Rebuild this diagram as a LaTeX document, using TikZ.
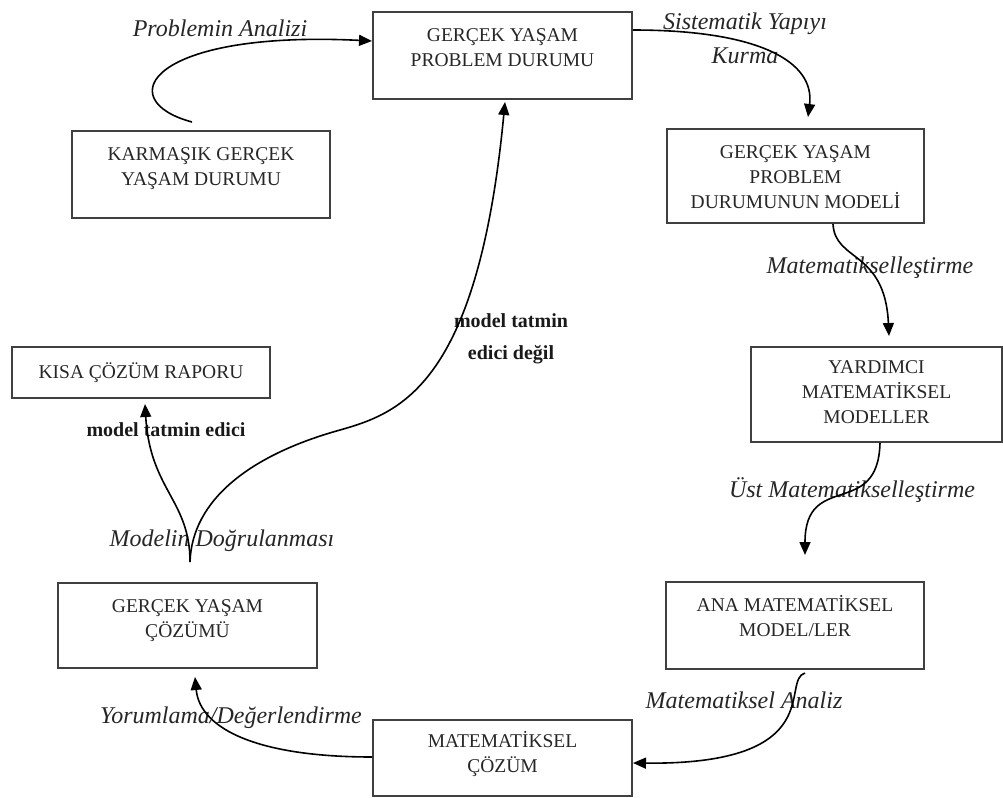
\documentclass[tikz,border=0pt]{standalone}
\usepackage{fontspec}
\setmainfont{Liberation Serif}
\usetikzlibrary{arrows.meta}
\usetikzlibrary{positioning}

\begin{document}
\begin{tikzpicture}
		[x=0.5pt, y=-0.5pt,
		font=\fontsize{9.75}{12.5}\selectfont
		]
		
		% Styles: frames, texts in frames, labels, arrows
		\tikzstyle{frame}=[draw=black!75,line width=1pt,inner sep=0];
		\tikzstyle{box text}=[align=center,inner sep=0,text=black!85];
		\tikzstyle{step label}=[font=\fontsize{12}{17}\selectfont\itshape,text=black!85];
		\tikzstyle{bold label}=[font=\fontsize{10}{16}\selectfont\bfseries,text=black!90];
		\tikzstyle{arr}=[draw,line width=0.8pt,-{Triangle[length=6.5pt,width=5.5pt]}];
		
		\useasboundingbox (0,0) rectangle (1003,798);
		
		% The frames
		\foreach \n/\x/\y/\w/\h in {prob/502.5/55.5/129.5/43.5, karm/201/174.5/129/43.5,
			modl/795.5/176/128.5/47, yard/876.5/394.5/125.5/47.5, ana/795/625.5/129/43.5,
			mcoz/502.5/758/129.5/38, gcoz/187.5/625.5/129.5/42.5, kisa/141/372.5/129/25.5}
			\node[frame,minimum width=\w pt,minimum height=\h pt](\n) at (\x,\y){};
		
		% Texts in the frames
		\node[box text,below=6.25pt of prob.north](prob-t){\strut GERÇEK YAŞAM\\PROBLEM DURUMU};
		\node[box text,below=6.25pt of karm.north](karm-t){\strut KARMAŞIK GERÇEK\\YAŞAM DURUMU};
		\node[box text,below=6.25pt of modl.north](modl-t){\strut GERÇEK YAŞAM\\PROBLEM\\DURUMUNUN MODELİ};
		\node[box text,below=5pt of yard.north](yard-t){\strut YARDIMCI\\MATEMATİKSEL\\MODELLER};
		\node[box text,below=6.25pt of ana.north](ana-t){\strut ANA MATEMATİKSEL\\MODEL/LER};
		\node[box text,below=5.5pt of mcoz.north](mcoz-t){\strut MATEMATİKSEL\\ÇÖZÜM};
		\node[box text,below=6.25pt of gcoz.north](gcoz-t){\strut GERÇEK YAŞAM\\ÇÖZÜMÜ};
		\node[box text](kisa-t) at (kisa){KISA ÇÖZÜM RAPORU};
		
		% Step labels
		\node[step label](analiz) at (220,28){Problemin Analizi};
		\node[step label,align=center](kurma) at (745,38){Sistematik Yapıyı\\Kurma};
		\node[step label](mat) at (870,268){Matematikselleştirme};
		\node[step label](ustmat) at (852,490){Üst Matematikselleştirme};
		\node[step label](matanaliz) at (744,700){Matematiksel Analiz};
		\node[step label](yorum) at (231,718){Yorumlama/Değerlendirme};
		\node[step label](dogrulama) at (222,541){Modelin Doğrulanması};
		\node[bold label](tatmin) at (166,430){model tatmin edici};
		\node[bold label,align=center](degil) at (511,339){model tatmin\\edici değil};
		
		% The cycle
		\draw[arr]([xshift=-4.5pt,yshift=4pt]karm.north) .. controls (110,100) and (150,30) .. ([yshift=7.25pt]prob.west);
		\draw[arr]([yshift=12.75pt]prob.east) .. controls (760,30) and (815,62) .. ([xshift=6.25pt,yshift=5.5pt]modl.north);
		\draw[arr]([xshift=18.75pt]modl.south) .. controls (835,262) and (885,250) .. ([xshift=6.25pt,yshift=5pt]yard.north);
		\draw[arr]([xshift=1.75pt]yard.south) .. controls (878,520) and (805,470) .. ([xshift=5pt,yshift=13pt]ana.north);
		\draw[arr]([xshift=5pt,yshift=-1.5pt]ana.south) .. controls (780,680) and (830,765) .. ([yshift=-2.5pt]mcoz.east);
		\draw[arr]([yshift=0.5pt]mcoz.west) .. controls (260,757) and (200,730) .. ([xshift=3.75pt,yshift=-4pt]gcoz.south);
		
		% Validation: two ways out
		\coordinate(kok) at ([xshift=1.25pt,yshift=10pt]gcoz.north);
		\draw[arr](kok) .. controls (190,500) and (150,490) .. ([xshift=2pt,yshift=-2.5pt]kisa.south);
		\draw[arr](kok) .. controls (192,500) and (250,455) .. (340,430)
			.. controls (400,413) and (478,385) .. ([xshift=1.25pt,yshift=-1pt]prob.south);
\end{tikzpicture}
\end{document}
